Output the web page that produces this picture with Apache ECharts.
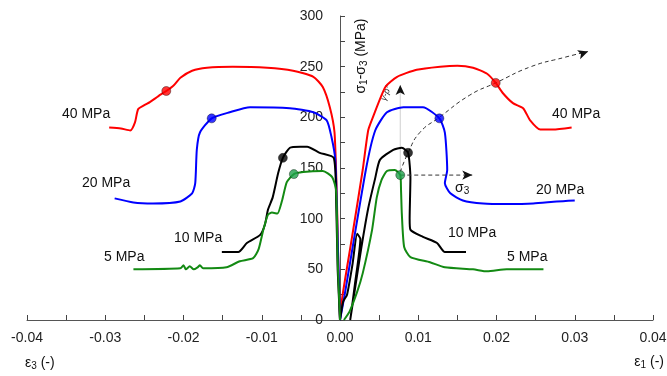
<!DOCTYPE html>
<html>
<head>
<meta charset="utf-8">
<script src="https://cdn.jsdelivr.net/npm/echarts@6/dist/echarts.min.js"></script>
<style>
  html, body { margin: 0; padding: 0; background: #fff; }
  #chart { width: 667px; height: 376px; }
</style>
</head>
<body>
<div id="chart"></div>
<script>
// strain (-) vs deviatoric stress (MPa), left = ε3, right = ε1
const red40Left = [[-0.0295,190],[-0.028,189],[-0.0268,187],[-0.0262,195],[-0.0258,208],[-0.025,212],[-0.0243,215],[-0.0232,221],[-0.0222,226],[-0.0212,232],[-0.0204,239],[-0.0189,246],[-0.017,249],[-0.0137,250],[-0.0093,249],[-0.006,246],[-0.0034,240],[-0.0022,230],[-0.0013,210],[-0.0007,185],[-0.0004,120],[-0.0002,50],[0,0]]
const red40Right = [[0,0],[0.0003,23],[0.0015,80],[0.0029,148],[0.0036,187],[0.0042,200],[0.0058,230],[0.0073,240],[0.0098,247],[0.0128,250],[0.015,251],[0.017,249],[0.0188,243],[0.0199,234],[0.0208,224],[0.0221,214],[0.0234,209],[0.0243,197],[0.0256,188],[0.0272,188],[0.0296,190]]
const blue20Left = [[-0.0288,120],[-0.0264,116],[-0.0239,115],[-0.0204,117],[-0.0189,125],[-0.0185,135],[-0.0183,168],[-0.0179,185],[-0.0164,199],[-0.0141,205],[-0.0115,210],[-0.0064,209],[-0.0034,205],[-0.0017,197],[-0.0011,181],[-0.0006,158],[-0.0003,80],[0,0]]
const blue20Right = [[0,0],[0.0006,25],[0.0033,148],[0.0045,187],[0.006,205],[0.0081,210],[0.0106,210],[0.0127,199],[0.0134,185],[0.0137,148],[0.0134,135],[0.0141,125],[0.0157,118],[0.0183,115],[0.0213,114.5],[0.0247,115],[0.0277,117],[0.03,118]]
const black10Left = [[-0.0151,67],[-0.013,67],[-0.0119,76],[-0.0102,84],[-0.0096,94],[-0.0092,109],[-0.0086,121],[-0.0079,145],[-0.0073,160],[-0.0064,170],[-0.0051,171],[-0.0042,171],[-0.0026,165],[-0.0008,160],[-0.0005,120],[-0.0003,50],[0,0]]
const black10Right = [[0,0],[0.0004,18],[0.0009,25],[0.0016,55],[0.0022,85],[0.0026,80],[0.0019,35],[0.0014,5],[0.0013,0],[0.0019,30],[0.0027,70],[0.0036,110],[0.0045,140],[0.0051,158],[0.0068,168],[0.0079,170],[0.0087,165],[0.009,140],[0.0089,100],[0.009,89],[0.0106,82],[0.0124,76],[0.0134,67],[0.0161,67]]
const green5Left = [[-0.0264,50],[-0.0204,51],[-0.02,54],[-0.0197,50],[-0.0192,53],[-0.0187,50],[-0.0182,52],[-0.0179,54],[-0.0175,51],[-0.0145,52],[-0.0128,58],[-0.0111,61],[-0.0104,70],[-0.0098,89],[-0.0092,104],[-0.0087,106],[-0.008,105],[-0.0074,118],[-0.0068,136],[-0.0059,144],[-0.0047,146],[-0.0022,147],[-0.001,141],[-0.0005,128],[-0.0003,60],[0,0]]
const green5Right = [[0.0005,0],[0.0012,8],[0.0022,28],[0.0029,46],[0.0041,89],[0.0047,121],[0.0053,138],[0.006,147],[0.007,148],[0.0077,143],[0.0078,128],[0.0079,105],[0.0082,72],[0.009,62],[0.0115,57],[0.0134,52],[0.017,50],[0.0188,48],[0.0213,50],[0.026,50]]

// peak / marked points
const redMarks = [[-0.0222,226],[0.0199,234]]
const blueMarks = [[-0.0164,199],[0.0127,199]]
const blackMarks = [[-0.0073,160],[0.0087,165]]
const greenMarks = [[-0.0059,144],[0.0077,143]]

// dashed trend through the marked points, and the σ3 / vertical arrows
const trendPath = [[0.0077,146],[0.0087,165],[0.0102,185],[0.0127,200],[0.0166,222],[0.0199,234],[0.0244,250],[0.0286,259],[0.0317,265]]
const sigma3Arrow = [[0.0077,143],[0.0169,143]]
const upArrow = [[0.0077,143],[0.0077,232]]

const xTicks = { min: -0.04, max: 0.04, interval: 0.01 }
const yTicks = { min: 0, max: 300, interval: 50 }

const font = 'Liberation Sans, Arial, sans-serif'

const chartDom = document.getElementById('chart')
const myChart = echarts.init(chartDom)

const gridLeft = 27
const gridRight = 14
// y axis sits at ε = 0, i.e. the middle of the plot area
const yAxisShift = -(667 - gridLeft - gridRight) / 2

const curve = (data, color) => ({
  type: 'line',
  data: data,
  smooth: 0.2,
  showSymbol: false,
  symbol: 'none',
  lineStyle: { color: color, width: 2 },
  z: 3,
  silent: true,
})

const dots = (data, color) => ({
  type: 'scatter',
  data: data,
  symbolSize: 9,
  itemStyle: { color: color, borderColor: 'rgba(0,0,0,0.6)', borderWidth: 0.8 },
  z: 5,
  silent: true,
})

// arrow head on the last point of a line
const withArrow = (data, rotate) => data.map((p, i) =>
  i === data.length - 1
    ? { value: p, symbol: 'arrow', symbolSize: [7, 10], symbolRotate: rotate, itemStyle: { color: '#111' } }
    : { value: p, symbol: 'none' })

const labelText = (text, x, y, align) => ({
  type: 'text',
  x: x,
  y: y,
  style: { text: text, font: '14px ' + font, fill: '#111', align: align || 'left', verticalAlign: 'middle' },
})

const subStyle = { s: { fontSize: 10, padding: [7, 0, 0, 0], fill: '#111' } }

const option = {
  animation: false,
  grid: { left: gridLeft, right: gridRight, top: 16, bottom: 56, containLabel: false, outerBoundsMode: 'none' },
  xAxis: {
    type: 'value',
    min: xTicks.min,
    max: xTicks.max,
    interval: xTicks.interval,
    axisLine: { onZero: true, lineStyle: { color: '#555', width: 1 } },
    axisTick: { inside: true, length: 5, lineStyle: { color: '#444' } },
    minorTick: { show: true, splitNumber: 2, length: 5, lineStyle: { color: '#444' } },
    splitLine: { show: false },
    axisLabel: { color: '#222', fontSize: 14, fontFamily: font, margin: 11, formatter: (v) => v.toFixed(2) },
  },
  yAxis: {
    type: 'value',
    min: yTicks.min,
    max: yTicks.max,
    interval: yTicks.interval,
    offset: yAxisShift,
    axisLine: { show: true, onZero: false, lineStyle: { color: '#555', width: 1 } },
    axisTick: { show: true, inside: true, length: 5, lineStyle: { color: '#444' } },
    minorTick: { show: true, splitNumber: 2, length: 5, lineStyle: { color: '#444' } },
    splitLine: { show: false },
    axisLabel: { color: '#222', fontSize: 14, fontFamily: font, margin: 17 },
  },
  series: [
    curve(red40Left, '#ff0000'),
    curve(red40Right, '#ff0000'),
    curve(blue20Left, '#0000ff'),
    curve(blue20Right, '#0000ff'),
    curve(black10Left, '#000000'),
    curve(black10Right, '#000000'),
    curve(green5Left, '#138a13'),
    curve(green5Right, '#138a13'),
    {
      type: 'line',
      data: withArrow(upArrow, 0),
      showSymbol: true,
      lineStyle: { color: '#cfcfcf', width: 1 },
      z: 2,
      silent: true,
    },
    {
      type: 'line',
      data: withArrow(sigma3Arrow, -90),
      showSymbol: true,
      lineStyle: { color: '#333', width: 1, type: [4, 3] },
      z: 4,
      silent: true,
    },
    {
      type: 'line',
      data: withArrow(trendPath, -71),
      smooth: true,
      showSymbol: true,
      lineStyle: { color: '#333', width: 1, type: [4, 3] },
      z: 4,
      silent: true,
    },
    dots(redMarks, '#ff0000'),
    dots(blueMarks, '#0000ff'),
    dots(blackMarks, '#000000'),
    dots(greenMarks, '#1ea04a'),
  ],
  graphic: [
    labelText('40 MPa', 62, 114),
    labelText('20 MPa', 82, 183),
    labelText('10 MPa', 174, 238),
    labelText('5 MPa', 104, 257),
    labelText('40 MPa', 552, 114),
    labelText('20 MPa', 536, 190),
    labelText('10 MPa', 448, 233),
    labelText('5 MPa', 507, 257),
    {
      type: 'text',
      x: 455,
      y: 188,
      style: {
        text: 'σ{s|3}',
        font: '14px ' + font,
        fill: '#111',
        verticalAlign: 'middle',
        rich: subStyle,
      },
    },
    {
      type: 'text',
      x: 361,
      y: 56,
      rotation: Math.PI / 2,
      style: {
        text: 'σ{s|1}-σ{s|3} (MPa)',
        font: '14px ' + font,
        fill: '#111',
        align: 'center',
        verticalAlign: 'middle',
        rich: subStyle,
      },
    },
    {
      type: 'text',
      x: 386,
      y: 93,
      rotation: 1.2,
      style: { text: 'γ-p*', font: 'italic 9px ' + font, fill: '#333', align: 'center', verticalAlign: 'middle' },
    },
    {
      type: 'text',
      x: 25,
      y: 363,
      style: {
        text: 'ε{s|3} (-)',
        font: '14px ' + font,
        fill: '#111',
        verticalAlign: 'middle',
        rich: subStyle,
      },
    },
    {
      type: 'text',
      x: 664,
      y: 362,
      style: {
        text: 'ε{s|1} (-)',
        font: '14px ' + font,
        fill: '#111',
        align: 'right',
        verticalAlign: 'middle',
        rich: subStyle,
      },
    },
  ],
}

myChart.setOption(option)
</script>
</body>
</html>
